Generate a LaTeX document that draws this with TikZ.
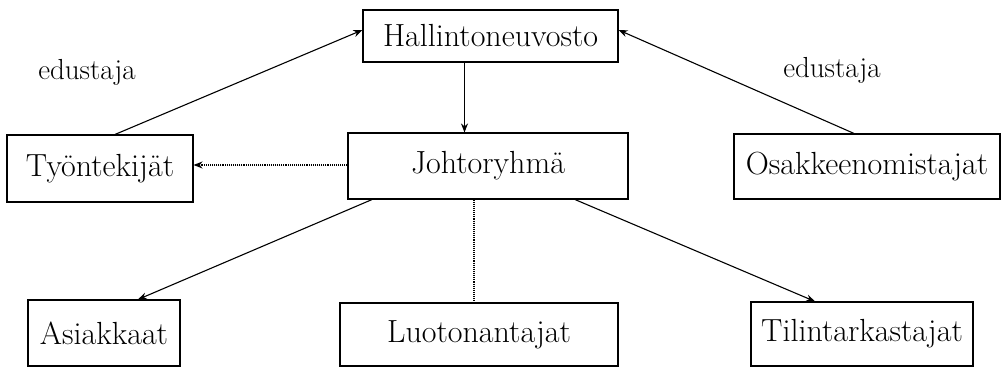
\documentclass[tikz,border=0pt]{standalone}
\usetikzlibrary{arrows.meta}
\begin{document}
\begin{tikzpicture}[x=1pt,y=1pt,
  box/.style={draw=black, line width=1.1pt, inner sep=0pt, font=\fontsize{32}{38}\selectfont},
  lbl/.style={inner sep=0pt, font=\fontsize{29}{34}\selectfont},
  link/.style={line width=1.1pt, -{Stealth[length=9pt,width=7pt]}},
  plain/.style={line width=1.1pt}]
\useasboundingbox (0,0) rectangle (1003,367);

% organisation boxes
\node[box, minimum width=255pt, minimum height=52pt] (hal) at (490.5,331) {Hallintoneuvosto};
\node[box, minimum width=186pt, minimum height=67pt] (tyo) at (100,198.5) {Työntekijät};
\node[box, minimum width=280pt, minimum height=66pt] (joh) at (488,201) {Johtoryhmä};
\node[box, minimum width=266pt, minimum height=65pt] (osa) at (867,200.5) {Osakkeenomistajat};
\node[box, minimum width=152pt, minimum height=66pt] (asi) at (104,34) {Asiakkaat};
\node[box, minimum width=278pt, minimum height=63pt] (luo) at (479,32.5) {Luotonantajat};
\node[box, minimum width=222pt, minimum height=64pt] (til) at (862,33) {Tilintarkastajat};

% representation labels
\node[lbl] (ed1) at (87,295) {edustaja};
\node[lbl] (ed2) at (832,297) {edustaja};

% connectors
\draw[link] ([xshift=15pt]tyo.north) -- ([yshift=6pt]hal.west);
\draw[link] ([xshift=-13pt]osa.north) -- ([yshift=6pt]hal.east);
\draw[link] ([xshift=-26pt]hal.south) -- ([xshift=-26pt]hal.south |- joh.north);
\draw[link, densely dotted] ([yshift=1pt]joh.west) -- ([yshift=1pt]joh.west -| tyo.east);
\draw[link] ([xshift=-116pt]joh.south) -- ([xshift=34pt]asi.north);
\draw[plain, densely dotted] ([xshift=-14pt]joh.south) -- ([xshift=-14pt]joh.south |- luo.north);
\draw[link] ([xshift=87pt]joh.south) -- ([xshift=-47pt]til.north);
\end{tikzpicture}
\end{document}
